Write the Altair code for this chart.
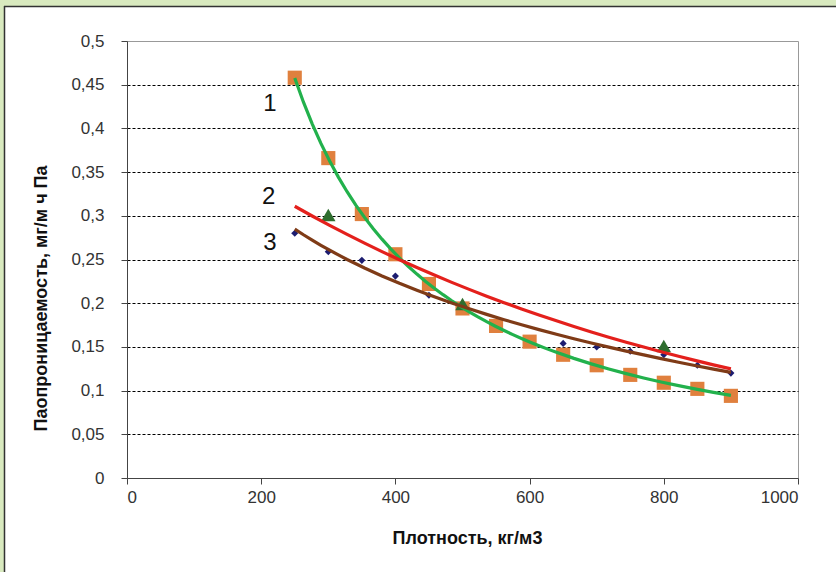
import altair as alt
import pandas as pd

# ---- data ----
x1 = [250, 300, 350, 400, 450, 500, 550, 600, 650, 700, 750, 800, 850, 900]
y1 = [0.458, 0.366, 0.302, 0.256, 0.222, 0.194, 0.174, 0.156, 0.141, 0.129, 0.118, 0.109, 0.102, 0.094]

x2 = [300, 500, 800]
y2 = [0.301, 0.199, 0.151]

x3 = [250, 300, 350, 400, 450, 500, 650, 700, 750, 800, 850, 900]
y3 = [0.280, 0.259, 0.249, 0.231, 0.209, 0.196, 0.154, 0.150, 0.145, 0.141, 0.129, 0.120]

label_text = ["1", "2", "3"]
label_x = [213, 211, 213]
label_y = [0.428, 0.322, 0.269]

x_ticks = [0, 200, 400, 600, 800, 1000]
y_ticks = [0, 0.05, 0.1, 0.15, 0.2, 0.25, 0.3, 0.35, 0.4, 0.45, 0.5]

df1 = pd.DataFrame({"x": x1, "y": y1})
df2 = pd.DataFrame({"x": x2, "y": y2})
df3 = pd.DataFrame({"x": x3, "y": y3})
dfl = pd.DataFrame({"t": label_text, "x": label_x, "y": label_y})

FONT = "Liberation Sans"

xs = alt.Scale(domain=[0, 1000], nice=False)
ys = alt.Scale(domain=[0, 0.5], nice=False)

x_axis = alt.Axis(
    values=x_ticks, format="d", title="Плотность, кг/м3", grid=False,
    labelFont=FONT, labelFontSize=17, labelColor="#333333",
    titleFont=FONT, titleFontSize=18, titleFontWeight="bold", titleColor="#111111",
    titleX=340, titleY=60, titleBaseline="middle",
    tickSize=6, tickColor="#444444", domainColor="#444444", labelPadding=5,
)
y_axis = alt.Axis(
    values=y_ticks, title="Паопроницаемость, мг/м ч Па",
    labelExpr="replace(format(datum.value, '~g'), '.', ',')",
    labelFont=FONT, labelFontSize=17, labelColor="#333333",
    titleFont=FONT, titleFontSize=18, titleFontWeight="bold", titleColor="#111111",
    titleX=-86, titleY=257, titleBaseline="middle", titleAlign="center", titleAngle=270,
    tickSize=6, tickColor="#444444", domainColor="#444444", labelPadding=17,
    grid=True, gridColor="#000000", gridDash=[3, 2], gridWidth=1,
    gridOpacity={"condition": {"test": "datum.value > 0.49 || datum.value < 0.01", "value": 0}, "value": 1},
)

X = alt.X("x:Q", scale=xs, axis=x_axis)
Y = alt.Y("y:Q", scale=ys, axis=y_axis)
Xn = alt.X("x:Q", scale=xs)
Yn = alt.Y("y:Q", scale=ys)

squares = alt.Chart(df1).mark_point(shape="square", filled=True, size=200, color="#e0803e", opacity=1).encode(x=X, y=Y)
diamonds = alt.Chart(df3).mark_point(shape="diamond", filled=True, size=50, color="#1c1c70", opacity=1).encode(x=Xn, y=Yn)
triangles = alt.Chart(df2).mark_point(shape="triangle-up", filled=True, size=210, color="#2f6e2f", opacity=1).encode(x=Xn, y=Yn)

line1 = alt.Chart(df1).transform_regression("x", "y", method="pow", extent=[250, 900]).mark_line(
    color="#22b14c", strokeWidth=3.2).encode(x=Xn, y=Yn)
line3 = alt.Chart(df3).transform_regression("x", "y", method="log", extent=[250, 900]).mark_line(
    color="#7f3b17", strokeWidth=3.2).encode(x=Xn, y=Yn)
line2 = alt.Chart(df2).transform_regression("x", "y", method="exp", extent=[250, 900]).mark_line(
    color="#e4201c", strokeWidth=3.2).encode(x=Xn, y=Yn)

labels = alt.Chart(dfl).mark_text(font=FONT, fontSize=24, color="#111111", baseline="middle", align="center").encode(
    x=Xn, y=Yn, text="t:N")

# decorative frame strip (top / left of the picture)
band = pd.DataFrame({"k": [0]})
left_band = alt.Chart(band).mark_rect(color="#d9eabf").encode(
    x=alt.value(-127), x2=alt.value(-123), y=alt.value(-41), y2=alt.value(531))
top_band = alt.Chart(band).mark_rect(color="#d9eabf").encode(
    x=alt.value(-127), x2=alt.value(709), y=alt.value(-41), y2=alt.value(-35))
left_line = alt.Chart(band).mark_rule(color="#333333", strokeWidth=1.5).encode(
    x=alt.value(-122.5), y=alt.value(-35), y2=alt.value(531))
top_line = alt.Chart(band).mark_rule(color="#333333", strokeWidth=1.5).encode(
    x=alt.value(-123), x2=alt.value(709), y=alt.value(-34.5))

chart = alt.layer(
    squares, diamonds, triangles, line1, line3, line2, labels,
    left_band, top_band, left_line, top_line,
).properties(
    width=671, height=437,
    padding={"left": 127, "top": 41, "right": 38, "bottom": 94},
    autosize=alt.AutoSizeParams(type="none"),
    background="white",
).configure_view(stroke="#999999", strokeWidth=1)

chart.save("out.html", embed_options={"renderer": "svg", "actions": False})
